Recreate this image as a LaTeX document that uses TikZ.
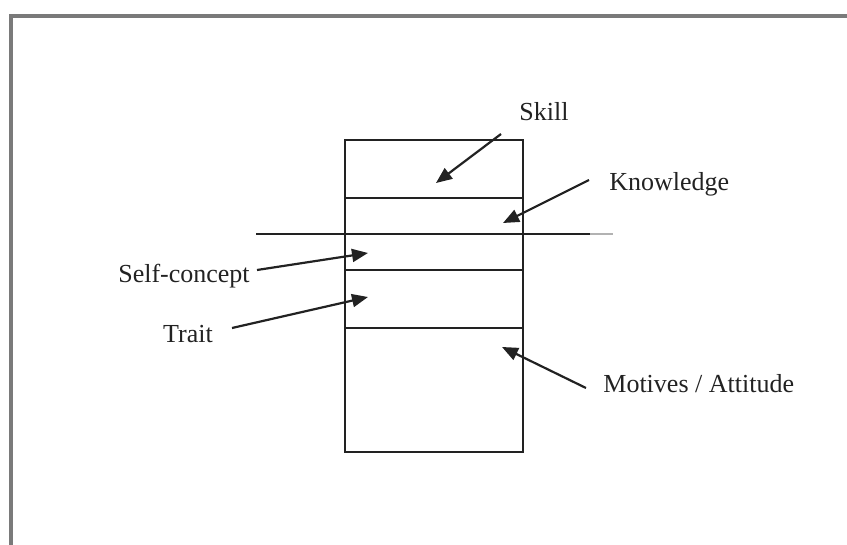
\documentclass[tikz,border=0pt]{standalone}
\usepackage{fontspec}
\setmainfont{Liberation Serif}
\usetikzlibrary{arrows.meta}
\definecolor{ink}{HTML}{222222}
\definecolor{framegray}{HTML}{7A7A7A}
\tikzset{
  layer/.style={draw=ink, line width=1pt},
  lbl/.style={text=ink, inner sep=0pt, font=\fontsize{13}{15}\selectfont},
  pointer/.style={draw=ink, line width=1.1pt, -{Triangle[length=8pt,width=6.5pt]}},
}
\begin{document}
\begin{tikzpicture}[x=0.5pt, y=-0.5pt]
\useasboundingbox (0,0) rectangle (847,545);

% page frame (top and left edges)
\draw[framegray, line width=1.6pt] (11,545) -- (11,16) -- (847,16);

% stacked layers
\draw[layer] (345,140) rectangle (523,452);
\draw[layer] (345,198) -- (523,198);
\draw[layer] (345,270) -- (523,270);
\draw[layer] (345,328) -- (523,328);

% waterline across the stack
\draw[ink, line width=1pt] (256,234) -- (590,234);
\draw[gray!60, line width=1pt] (590,234) -- (613,234);

% labels
\node[lbl] (skill) at (544,112) {Skill};
\node[lbl, anchor=west] (know) at (609,184) {Knowledge};
\node[lbl] (self) at (184,276) {Self-concept};
\node[lbl] (trait) at (188,334) {Trait};
\node[lbl, anchor=west] (motive) at (603,384) {Motives / Attitude};

% arrow ends
\coordinate (skillS) at (501,134);
\coordinate (skillT) at (436,183);
\coordinate (knowS) at (589,180);
\coordinate (knowT) at (503,223);
\coordinate (selfS) at (257,270);
\coordinate (selfT) at (368,253);
\coordinate (traitS) at (232,328);
\coordinate (traitT) at (368,297);
\coordinate (motS) at (586,388);
\coordinate (motT) at (502,347);

\draw[pointer] (skillS) -- (skillT);
\draw[pointer] (knowS) -- (knowT);
\draw[pointer] (selfS) -- (selfT);
\draw[pointer] (traitS) -- (traitT);
\draw[pointer] (motS) -- (motT);
\end{tikzpicture}
\end{document}
